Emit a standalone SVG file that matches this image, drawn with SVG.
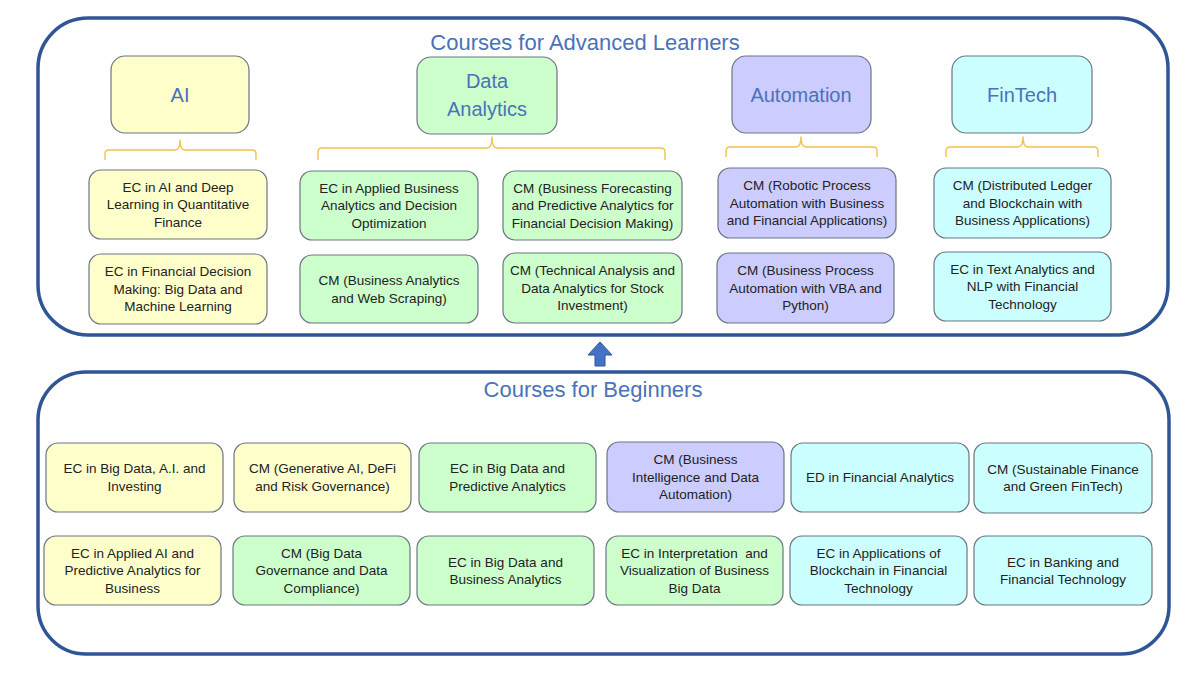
<svg xmlns="http://www.w3.org/2000/svg" width="1200" height="675" viewBox="0 0 1200 675">
<style>
.frame{fill:#ffffff;stroke:#2F5597;stroke-width:3.5}
.title{font-family:"Liberation Sans",Arial,sans-serif;font-size:22px;fill:#4A72B8;text-anchor:middle}
.head{font-family:"Liberation Sans",Arial,sans-serif;font-size:20px;fill:#4A72B8;text-anchor:middle}
.lbl{font-family:"Liberation Sans",Arial,sans-serif;font-size:13.5px;fill:#222222;text-anchor:middle}
.box{stroke:#6B7682;stroke-width:1.2}
.y{fill:#FFFFCC}.g{fill:#CCFFCC}.p{fill:#CCCCFF}.c{fill:#CCFFFF}
.br{fill:none;stroke:#F2C24A;stroke-width:1.4;stroke-linejoin:round}
</style>
<rect width="1200" height="675" fill="#ffffff"/>
<g id="advanced">
<rect class="frame" x="38" y="18" width="1130" height="317" rx="50"/>
<text class="title" x="585" y="50">Courses for Advanced Learners</text>
</g>
<g id="beginners">
<rect class="frame" x="38" y="372" width="1131" height="282" rx="48"/>
<text class="title" x="593" y="397">Courses for Beginners</text>
</g>
<g id="connectors">
<path class="br" d="M105,160 V154 Q105,150 109,150 H175 Q180,150 180,140 Q180,150 185,150 H252 Q256,150 256,154 V160"/>
<path class="br" d="M318,160 V152 Q318,148 322,148 H487 Q492,148 492,137 Q492,148 497,148 H661 Q665,148 665,152 V160"/>
<path class="br" d="M726,157 V151 Q726,147 730,147 H796 Q801,147 801,137 Q801,147 806,147 H873 Q877,147 877,151 V157"/>
<path class="br" d="M946,157 V151 Q946,147 950,147 H1018 Q1023,147 1023,137 Q1023,147 1028,147 H1094 Q1098,147 1098,151 V157"/>
<path d="M600,342 L612,355 L605,355 L605,366 L595,366 L595,355 L588,355 Z" fill="#4472C4" stroke="#2F5597" stroke-width="1"/>
</g>
<g id="h-ai"><rect class="box y" x="111" y="56" width="138" height="77" rx="14"/><text class="head" x="180" y="102">AI</text></g>
<g id="h-da"><rect class="box g" x="417" y="57" width="140" height="77" rx="14"/><text class="head" x="487" y="88">Data</text><text class="head" x="487" y="116">Analytics</text></g>
<g id="h-auto"><rect class="box p" x="732" y="56" width="139" height="77" rx="14"/><text class="head" x="801" y="102">Automation</text></g>
<g id="h-fin"><rect class="box c" x="952" y="56" width="140" height="77" rx="14"/><text class="head" x="1022" y="102">FinTech</text></g>

<g id="a1"><rect class="box y" x="89" y="170" width="178" height="69" rx="12"/><text class="lbl" x="178" y="191.7">EC in AI and Deep</text><text class="lbl" x="178" y="209.2">Learning in Quantitative</text><text class="lbl" x="178" y="226.7">Finance</text></g>
<g id="a2"><rect class="box y" x="89" y="254" width="178" height="70" rx="12"/><text class="lbl" x="178" y="276.2">EC in Financial Decision</text><text class="lbl" x="178" y="293.7">Making: Big Data and</text><text class="lbl" x="178" y="311.2">Machine Learning</text></g>
<g id="d1"><rect class="box g" x="300" y="171" width="178" height="69" rx="12"/><text class="lbl" x="389" y="192.7">EC in Applied Business</text><text class="lbl" x="389" y="210.2">Analytics and Decision</text><text class="lbl" x="389" y="227.7">Optimization</text></g>
<g id="d2"><rect class="box g" x="300" y="255" width="178" height="68" rx="12"/><text class="lbl" x="389" y="285">CM (Business Analytics</text><text class="lbl" x="389" y="302.5">and Web Scraping)</text></g>
<g id="d3"><rect class="box g" x="503" y="171" width="179" height="69" rx="12"/><text class="lbl" x="592.5" y="192.7">CM (Business Forecasting</text><text class="lbl" x="592.5" y="210.2">and Predictive Analytics for</text><text class="lbl" x="592.5" y="227.7">Financial Decision Making)</text></g>
<g id="d4"><rect class="box g" x="503" y="253" width="179" height="70" rx="12"/><text class="lbl" x="592.5" y="275.2">CM (Technical Analysis and</text><text class="lbl" x="592.5" y="292.7">Data Analytics for Stock</text><text class="lbl" x="592.5" y="310.2">Investment)</text></g>
<g id="u1"><rect class="box p" x="718" y="168" width="178" height="70" rx="12"/><text class="lbl" x="807" y="190.2">CM (Robotic Process</text><text class="lbl" x="807" y="207.7">Automation with Business</text><text class="lbl" x="807" y="225.2">and Financial Applications)</text></g>
<g id="u2"><rect class="box p" x="717" y="253" width="177" height="70" rx="12"/><text class="lbl" x="805.5" y="275.2">CM (Business Process</text><text class="lbl" x="805.5" y="292.7">Automation with VBA and</text><text class="lbl" x="805.5" y="310.2">Python)</text></g>
<g id="f1"><rect class="box c" x="934" y="168" width="177" height="70" rx="12"/><text class="lbl" x="1022.5" y="190.2">CM (Distributed Ledger</text><text class="lbl" x="1022.5" y="207.7">and Blockchain with</text><text class="lbl" x="1022.5" y="225.2">Business Applications)</text></g>
<g id="f2"><rect class="box c" x="934" y="252" width="177" height="69" rx="12"/><text class="lbl" x="1022.5" y="273.7">EC in Text Analytics and</text><text class="lbl" x="1022.5" y="291.2">NLP with Financial</text><text class="lbl" x="1022.5" y="308.7">Technology</text></g>

<g id="b1"><rect class="box y" x="46" y="443" width="177" height="69" rx="12"/><text class="lbl" x="134.5" y="473.4">EC in Big Data, A.I. and</text><text class="lbl" x="134.5" y="490.9">Investing</text></g>
<g id="b2"><rect class="box y" x="234" y="443" width="177" height="69" rx="12"/><text class="lbl" x="322.5" y="473.4">CM (Generative AI, DeFi</text><text class="lbl" x="322.5" y="490.9">and Risk Governance)</text></g>
<g id="b3"><rect class="box g" x="419" y="443" width="177" height="69" rx="12"/><text class="lbl" x="507.5" y="473.4">EC in Big Data and</text><text class="lbl" x="507.5" y="490.9">Predictive Analytics</text></g>
<g id="b4"><rect class="box p" x="607" y="442" width="177" height="70" rx="12"/><text class="lbl" x="695.5" y="464.2">CM (Business</text><text class="lbl" x="695.5" y="481.7">Intelligence and Data</text><text class="lbl" x="695.5" y="499.2">Automation)</text></g>
<g id="b5"><rect class="box c" x="791" y="443" width="178" height="69" rx="12"/><text class="lbl" x="880" y="482.2">ED in Financial Analytics</text></g>
<g id="b6"><rect class="box c" x="974" y="443" width="178" height="70" rx="12"/><text class="lbl" x="1063" y="473.9">CM (Sustainable Finance</text><text class="lbl" x="1063" y="491.4">and Green FinTech)</text></g>

<g id="c1"><rect class="box y" x="44" y="536" width="177" height="69" rx="12"/><text class="lbl" x="132.5" y="557.7">EC in Applied AI and</text><text class="lbl" x="132.5" y="575.2">Predictive Analytics for</text><text class="lbl" x="132.5" y="592.7">Business</text></g>
<g id="c2"><rect class="box g" x="233" y="536" width="177" height="69" rx="12"/><text class="lbl" x="321.5" y="557.7">CM (Big Data</text><text class="lbl" x="321.5" y="575.2">Governance and Data</text><text class="lbl" x="321.5" y="592.7">Compliance)</text></g>
<g id="c3"><rect class="box g" x="417" y="536" width="177" height="69" rx="12"/><text class="lbl" x="505.5" y="566.5">EC in Big Data and</text><text class="lbl" x="505.5" y="584">Business Analytics</text></g>
<g id="c4"><rect class="box g" x="606" y="536" width="177" height="69" rx="12"/><text class="lbl" x="694.5" y="557.7" xml:space="preserve">EC in Interpretation  and</text><text class="lbl" x="694.5" y="575.2">Visualization of Business</text><text class="lbl" x="694.5" y="592.7">Big Data</text></g>
<g id="c5"><rect class="box c" x="790" y="536" width="177" height="69" rx="12"/><text class="lbl" x="878.5" y="557.7">EC in Applications of</text><text class="lbl" x="878.5" y="575.2">Blockchain in Financial</text><text class="lbl" x="878.5" y="592.7">Technology</text></g>
<g id="c6"><rect class="box c" x="974" y="536" width="178" height="69" rx="12"/><text class="lbl" x="1063" y="566.5">EC in Banking and</text><text class="lbl" x="1063" y="584">Financial Technology</text></g>
</svg>
